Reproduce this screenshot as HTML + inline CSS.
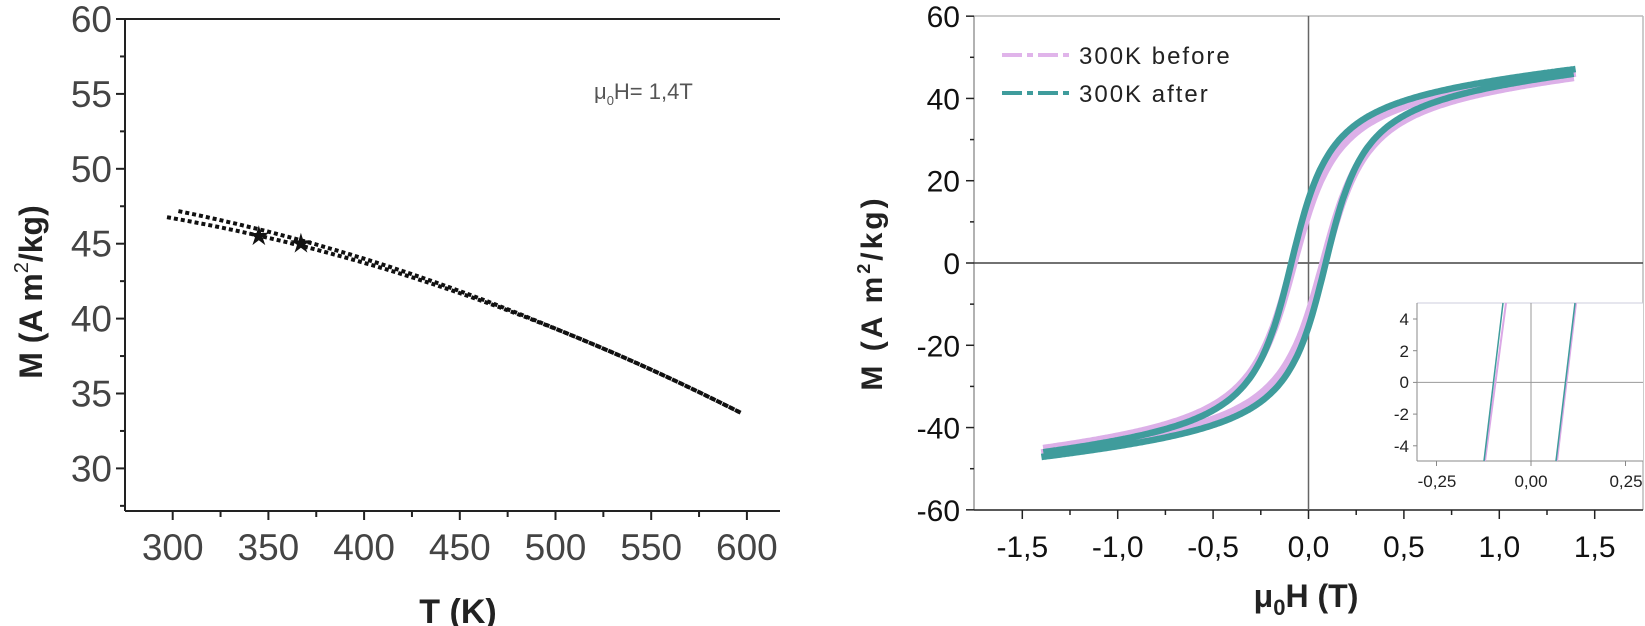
<!DOCTYPE html>
<html><head><meta charset="utf-8"><style>
html,body{margin:0;padding:0;background:#fff;}
svg{display:block}
</style></head><body>
<svg id="s" width="1645" height="626" viewBox="0 0 1645 626" xmlns="http://www.w3.org/2000/svg">
<rect width="1645" height="626" fill="#fff"/>
<g id="L" stroke="#222" stroke-width="2" fill="none">
  <line x1="125" y1="19" x2="780" y2="19"/>
  <line x1="125" y1="19" x2="125" y2="511"/>
  <line x1="125" y1="511" x2="780" y2="511"/>
</g>
<g font-family="Liberation Sans, sans-serif" font-size="37" fill="#444" text-anchor="end" id="Lyl"></g>
<g font-family="Liberation Sans, sans-serif" font-size="37" fill="#444" text-anchor="middle" id="Lxl"></g>
<text x="458" y="623" font-family="Liberation Sans, sans-serif" font-weight="bold" font-size="34" fill="#222" text-anchor="middle">T (K)</text>
<text transform="translate(42,292) rotate(-90)" font-family="Liberation Sans, sans-serif" font-weight="bold" font-size="32" fill="#222" text-anchor="middle">M (A m<tspan dy="-14" font-size="20" font-weight="normal">2</tspan><tspan dy="14">/kg)</tspan></text>
<text x="594" y="99" font-family="Liberation Sans, sans-serif" font-size="22" fill="#555">μ<tspan font-size="13" dy="6">0</tspan><tspan dy="-6">H= 1,4T</tspan></text>
<g id="Ldata"></g>

<g stroke="#222" stroke-width="1.5" fill="none">
  <line x1="974" y1="16" x2="1643" y2="16" stroke="#bbb"/>
  <line x1="1643" y1="16" x2="1643" y2="510" stroke="#bbb"/>
  <line x1="974" y1="16" x2="974" y2="510" stroke="#999"/>
  <line x1="974" y1="510" x2="1643" y2="510"/>
  <line x1="974" y1="263" x2="1643" y2="263" stroke="#444"/>
  <line x1="1308.5" y1="16" x2="1308.5" y2="510" stroke="#666"/>
</g>
<g id="Rt" stroke="#222" stroke-width="1.5"></g>
<g font-family="Liberation Sans, sans-serif" font-size="30" fill="#111" text-anchor="end" id="Ryl"></g>
<g font-family="Liberation Sans, sans-serif" font-size="30" fill="#111" text-anchor="middle" id="Rxl"></g>
<text x="1306" y="607" font-family="Liberation Sans, sans-serif" font-weight="bold" font-size="32" fill="#222" text-anchor="middle">μ<tspan font-size="22" dy="8">0</tspan><tspan dy="-8">H (T)</tspan></text>
<text transform="translate(882,293) rotate(-90)" font-family="Liberation Sans, sans-serif" font-weight="bold" font-size="30" fill="#222" text-anchor="middle" letter-spacing="3">M (A m<tspan dy="-12" font-size="18">2</tspan><tspan dy="12">/kg)</tspan></text>
<g id="Rdata"></g>
<line x1="1002" y1="55" x2="1069" y2="55" stroke="#e0b4ea" stroke-width="4" stroke-dasharray="20,5,6,5"/>
<line x1="1002" y1="93" x2="1069" y2="93" stroke="#3f9c9c" stroke-width="4" stroke-dasharray="20,5,6,5"/>
<text x="1079" y="64" font-family="Liberation Sans, sans-serif" font-size="24" fill="#222" letter-spacing="2">300K before</text>
<text x="1079" y="102" font-family="Liberation Sans, sans-serif" font-size="24" fill="#222" letter-spacing="2">300K after</text>
<rect x="1417" y="303" width="226" height="158" fill="#fff" stroke="none"/>
<g stroke-width="1" fill="none">
  <line x1="1417" y1="303" x2="1643" y2="303" stroke="#ccd"/>
  <line x1="1417" y1="303" x2="1417" y2="461" stroke="#888"/>
  <line x1="1417" y1="461" x2="1643" y2="461" stroke="#888"/>
  <line x1="1417" y1="382.4" x2="1643" y2="382.4" stroke="#999"/>
  <line x1="1531" y1="303" x2="1531" y2="461" stroke="#999"/>
</g>
<g stroke-width="2" fill="none">
  <line x1="1485" y1="461" x2="1506" y2="303" stroke="#dba8e6"/>
  <line x1="1557" y1="461" x2="1576" y2="303" stroke="#dba8e6"/>
  <line x1="1484" y1="461" x2="1503" y2="303" stroke="#3f9c9c" stroke-width="1.5"/>
  <line x1="1556" y1="461" x2="1575" y2="303" stroke="#3f9c9c" stroke-width="1.5"/>
</g>
<g font-family="Liberation Sans, sans-serif" font-size="17" fill="#222" text-anchor="end">
  <text x="1409" y="325">4</text><text x="1409" y="357">2</text><text x="1409" y="388">0</text>
  <text x="1409" y="420">-2</text><text x="1409" y="452">-4</text>
</g>
<g font-family="Liberation Sans, sans-serif" font-size="17" fill="#222" text-anchor="middle">
  <text x="1437" y="487">-0,25</text><text x="1531" y="487">0,00</text><text x="1626" y="487">0,25</text>
</g>
<g id="It" stroke="#888" stroke-width="1"></g>
</svg>
<script>
var NS="http://www.w3.org/2000/svg";
function el(p,t,a,txt){var e=document.createElementNS(NS,t);for(var k in a)e.setAttribute(k,a[k]);if(txt!=null)e.textContent=txt;document.getElementById(p).appendChild(e);return e;}
function lx(T){return 172.7+(T-300)*1.914;}
function ly(M){return 19+(60-M)*14.98;}
for(var M=30;M<=60;M+=5){el("L","line",{x1:116,y1:ly(M),x2:125,y2:ly(M)});el("Lyl","text",{x:112,y:ly(M)+13},M);}
for(var M=27.5;M<60;M+=5){el("L","line",{x1:120,y1:ly(M),x2:125,y2:ly(M)});}
for(var T=300;T<=600;T+=50){el("L","line",{x1:lx(T),y1:511,x2:lx(T),y2:520});el("Lxl","text",{x:lx(T),y:560},T);}
for(var T=275;T<=625;T+=50){if(lx(T)>=125&&lx(T)<=778)el("L","line",{x1:lx(T),y1:511,x2:lx(T),y2:517});}
function m1(T){var u=(T-300)/300;return 46.7-6.8*u-6.4*u*u;}
function m2(T){var d=Math.max(0,(500-T)/200);return m1(T)+0.55*d;}
var p1="",p2="";
for(var T=297;T<=598;T+=3){p1+=(p1?"L":"M")+lx(T).toFixed(1)+","+ly(m1(T)).toFixed(1);}
for(var T=303;T<=598;T+=3){p2+=(p2?"L":"M")+lx(T).toFixed(1)+","+ly(m2(T)).toFixed(1);}
el("Ldata","path",{d:p1,stroke:"#111","stroke-width":4,fill:"none","stroke-dasharray":"4,3"});
el("Ldata","path",{d:p2,stroke:"#111","stroke-width":4,fill:"none","stroke-dasharray":"4,3"});
function star(cx,cy){var s="";for(var i=0;i<10;i++){var r=i%2?4:11,a=-Math.PI/2+i*Math.PI/5;s+=(i?"L":"M")+(cx+r*Math.cos(a)).toFixed(1)+","+(cy+r*Math.sin(a)).toFixed(1);}return s+"Z";}
el("Ldata","path",{d:star(lx(345),ly(45.5)),fill:"#111"});
el("Ldata","path",{d:star(lx(367),ly(45.0)),fill:"#111"});
function rx(H){return 1308.5+H*190.8;}
function ry(M){return 263-M*4.114;}
for(var M=-60;M<=60;M+=20){el("Rt","line",{x1:966,y1:ry(M),x2:974,y2:ry(M)});el("Ryl","text",{x:960,y:ry(M)+11},M<0?"-"+(-M):M);}
for(var M=-50;M<60;M+=20){el("Rt","line",{x1:970,y1:ry(M),x2:974,y2:ry(M)});}
var hl=["-1,5","-1,0","-0,5","0,0","0,5","1,0","1,5"];
for(var i=0;i<7;i++){var H=-1.5+i*0.5;el("Rt","line",{x1:rx(H),y1:510,x2:rx(H),y2:519});el("Rxl","text",{x:rx(H),y:557},hl[i]);}
for(var H=-1.25;H<1.6;H+=0.5){el("Rt","line",{x1:rx(H),y1:510,x2:rx(H),y2:515});}
for(var i=-1;i<=1;i++){el("It","line",{x1:1531+i*94.5,y1:461,x2:1531+i*94.5,y2:466});}
for(var m=-4;m<=4;m+=2){el("It","line",{x1:1413,y1:382.4-m*15.85,x2:1417,y2:382.4-m*15.85});}
function f(x,Ms,w,k){return 2/Math.PI*Ms*Math.atan(x/w)+k*x;}
function loop(hc,Ms,w,k,sc){var up="",dn="";for(var H=1.4;H>=-1.4;H-=0.01){up+=(up?"L":"M")+rx(H).toFixed(1)+","+ry(sc*f(H+hc,Ms,w,k)).toFixed(1);}
for(var H=-1.4;H<=1.4;H+=0.01){dn+=(dn?"L":"M")+rx(H).toFixed(1)+","+ry(sc*f(H-hc,Ms,w,k)).toFixed(1);}return up+dn;}
el("Rdata","path",{d:loop(0.08,44,0.165,4,0.99),stroke:"#dcb0e8","stroke-width":9,fill:"none","stroke-linejoin":"round"});
el("Rdata","path",{d:loop(0.09,44,0.15,4,1.0),stroke:"#3f9c9c","stroke-width":6.5,fill:"none","stroke-linejoin":"round"});
</script>
</body></html>
